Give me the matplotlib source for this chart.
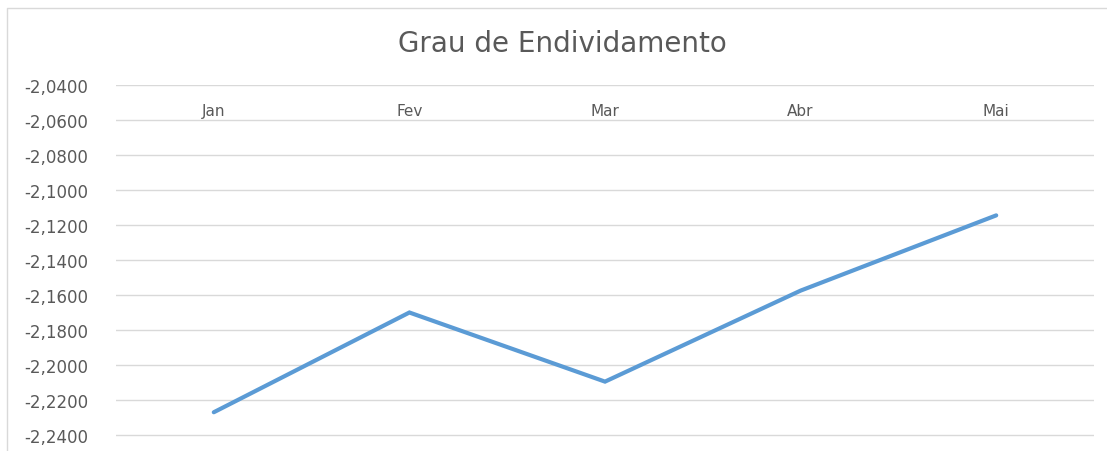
import matplotlib
matplotlib.use('Agg')
from matplotlib import pyplot as plt
from matplotlib.lines import Line2D
from matplotlib.ticker import FuncFormatter, MultipleLocator

# dados do gráfico
meses = ['Jan', 'Fev', 'Mar', 'Abr', 'Mai']
grau_endividamento = [-2.2270, -2.1700, -2.2095, -2.1575, -2.1145]

line_color = '#5B9BD5'
grid_color = '#D9D9D9'
text_color = '#595959'

plt.rcParams['font.family'] = ['DejaVu Sans']

W, H = 1107, 452
fig = plt.figure(figsize=(W / 100, H / 100), dpi=100)

# borda do gráfico (estilo Excel), só topo e esquerda aparecem no recorte
fig.lines.append(Line2D([6.5 / W, 6.5 / W, 1], [0, 1 - 8.5 / H, 1 - 8.5 / H],
                        transform=fig.transFigure, color=grid_color, linewidth=1))

# área de plotagem
left, right, top = 116, 1094, 86
ax = fig.add_axes([left / W, 0, (right - left) / W, 1 - top / H])

x = range(len(meses))
ax.plot(x, grau_endividamento, color=line_color, linewidth=3,
        solid_capstyle='round', solid_joinstyle='miter')

ax.set_xlim(-0.5, len(meses) - 0.5)
px = 0.02 / 35  # valor por pixel
y_top = -2.04
y_bottom = y_top - (H - top) * px
ax.set_ylim(y_bottom, y_top)
ax.yaxis.set_major_locator(MultipleLocator(0.02))
ax.yaxis.set_major_formatter(FuncFormatter(lambda v, p: ('%.4f' % v).replace('.', ',')))
ax.grid(axis='y', color=grid_color, linewidth=1)
ax.set_axisbelow(True)

for s in ax.spines.values():
    s.set_visible(False)
ax.set_xticks([])
ax.tick_params(axis='y', length=0, labelsize=12, labelcolor=text_color, pad=20)

# rótulos das categorias (eixo cruzando no topo)
for i, m in enumerate(meses):
    ax.text(i, y_top - 30 * px, m, ha='center', va='baseline',
            fontsize=11, color=text_color)

fig.text(562 / W, 1 - 52 / H, 'Grau de Endividamento', ha='center', va='baseline',
         fontsize=20, color=text_color)

fig.savefig('out.png', dpi=100)
